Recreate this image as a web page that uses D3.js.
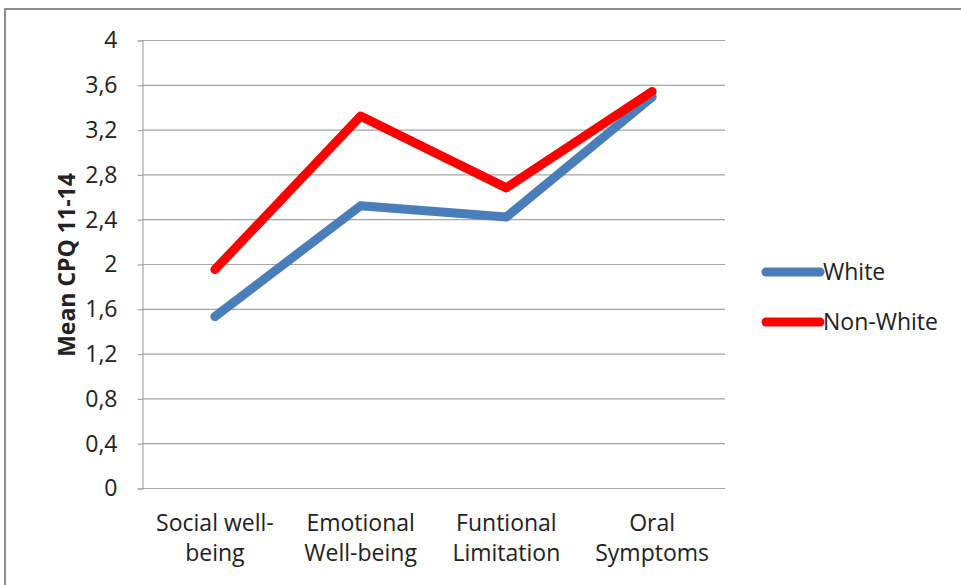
<!DOCTYPE html>
<html>
<head>
<meta charset="utf-8">
<script src="https://cdn.jsdelivr.net/npm/d3@7"></script>
<style>
  html, body { margin: 0; padding: 0; background: #fff; }
  svg { display: block; }
  text { font-family: "Open Sans", "Noto Sans", sans-serif; fill: #222; }
</style>
</head>
<body>
<svg id="chart" width="961" height="585"></svg>
<script>
// CPQ 11-14 domain means by ethnic group
const categories = [["Social well-", "being"], ["Emotional", "Well-being"], ["Funtional", "Limitation"], ["Oral", "Symptoms"]];
const white = [1.53, 2.52, 2.42, 3.49];
const nonWhite = [1.95, 3.32, 2.68, 3.54];
const yTicks = [0, 0.4, 0.8, 1.2, 1.6, 2, 2.4, 2.8, 3.2, 3.6, 4];
const seriesNames = ["White", "Non-White"];
const seriesColors = ["#4a7ebb", "#ff0000"];

const FONT = "'Open Sans', 'Noto Sans', sans-serif";
const FS = "23px";

const svg = d3.select("#chart");

// chart area frame
svg.append("path")
  .attr("d", "M5,970 L5,9 L970,9")
  .attr("fill", "none")
  .attr("stroke", "#8c8c8c")
  .attr("stroke-width", 2);

const plot = { left: 142, right: 725, top: 40, bottom: 488 };

const x = d3.scaleBand()
  .domain(d3.range(categories.length))
  .range([plot.left, plot.right]);

const y = d3.scaleLinear()
  .domain([0, 4])
  .range([plot.bottom, plot.top]);

// horizontal gridlines
svg.append("g")
  .selectAll("line")
  .data(yTicks.filter(d => d > 0))
  .join("line")
  .attr("x1", plot.left).attr("x2", plot.right)
  .attr("y1", d => y(d) + 0.5).attr("y2", d => y(d) + 0.5)
  .attr("stroke", "#a6a6a6")
  .attr("stroke-width", 1.2);

// y axis
const yAxis = d3.axisLeft(y)
  .tickValues(yTicks)
  .tickSize(5)
  .tickPadding(20)
  .tickFormat(d => String(d).replace(".", ","));
const gy = svg.append("g")
  .attr("transform", `translate(${plot.left + 0.5},0.5)`)
  .call(yAxis);
gy.select(".domain").attr("stroke", "#a6a6a6").attr("stroke-width", 1.2);
gy.selectAll(".tick line").attr("stroke", "#a6a6a6").attr("stroke-width", 1.2);
gy.selectAll(".tick text")
  .style("font-family", FONT)
  .style("font-size", FS)
  .attr("fill", "#222");

// x axis baseline
svg.append("line")
  .attr("x1", plot.left).attr("x2", plot.right)
  .attr("y1", plot.bottom + 0.5).attr("y2", plot.bottom + 0.5)
  .attr("stroke", "#a6a6a6")
  .attr("stroke-width", 1.2);

// category labels (two lines each)
const catLabels = svg.append("g")
  .selectAll("text")
  .data(categories)
  .join("text")
  .attr("text-anchor", "middle")
  .attr("x", (d, i) => x(i) + x.bandwidth() / 2)
  .attr("y", 531)
  .style("font-size", FS);
catLabels.selectAll("tspan")
  .data(d => d)
  .join("tspan")
  .attr("x", function () { return d3.select(this.parentNode).attr("x"); })
  .attr("dy", (d, i) => i === 0 ? 0 : 30)
  .text(d => d);

// y axis title
svg.append("text")
  .attr("transform", `translate(75,265) rotate(-90)`)
  .attr("text-anchor", "middle")
  .style("font-size", FS)
  .style("font-weight", "bold")
  .text("Mean CPQ 11-14");

// series lines
const line = d3.line()
  .x((d, i) => x(i) + x.bandwidth() / 2)
  .y(d => y(d));

[white, nonWhite].forEach((vals, k) => {
  svg.append("path")
    .datum(vals)
    .attr("d", line)
    .attr("fill", "none")
    .attr("stroke", seriesColors[k])
    .attr("stroke-width", 9)
    .attr("stroke-linecap", "round")
    .attr("stroke-linejoin", "round");
});

// legend
const legend = svg.append("g")
  .selectAll("g")
  .data(seriesNames)
  .join("g")
  .attr("transform", (d, i) => `translate(766,${272 + i * 50})`);
legend.append("line")
  .attr("x1", 0).attr("x2", 54)
  .attr("stroke", (d, i) => seriesColors[i])
  .attr("stroke-width", 9)
  .attr("stroke-linecap", "round");
legend.append("text")
  .attr("x", 57)
  .attr("y", 8)
  .style("font-size", FS)
  .text(d => d);
</script>
</body>
</html>
